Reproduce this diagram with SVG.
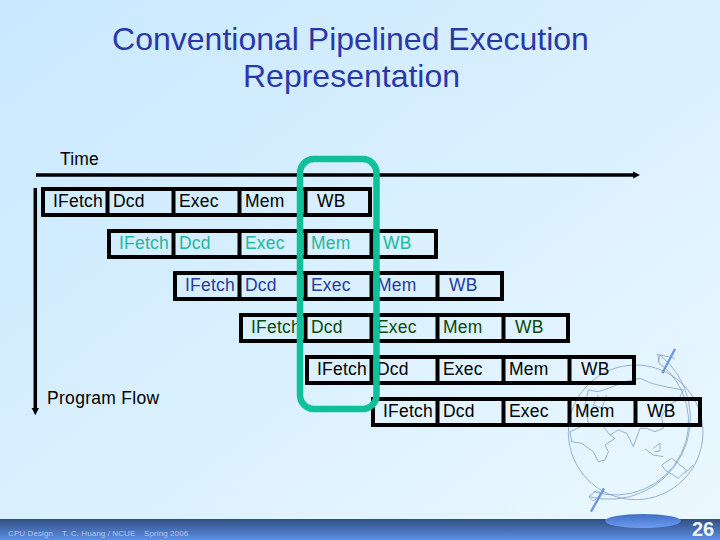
<svg xmlns="http://www.w3.org/2000/svg" width="720" height="540" viewBox="0 0 720 540">
<defs>
<linearGradient id="bg" x1="0" y1="0" x2="1" y2="1"><stop offset="0" stop-color="#c9e8ff"/><stop offset="0.5" stop-color="#d9f0ff"/><stop offset="1" stop-color="#ecf8ff"/></linearGradient>
<linearGradient id="bar" x1="0" y1="0" x2="0" y2="1"><stop offset="0" stop-color="#2f4f80"/><stop offset="1" stop-color="#5d8fe6"/></linearGradient>
<linearGradient id="disc" x1="0" y1="0" x2="0" y2="1"><stop offset="0" stop-color="#3f6fc4"/><stop offset="1" stop-color="#6d9cf0"/></linearGradient>
<marker id="ah" viewBox="0 0 10 10" refX="4.500" refY="5" markerWidth="2.200" markerHeight="2.200" orient="auto"><path d="M0 0L10 5L0 10Z" fill="#000"/></marker>
</defs>
<style>
text{font-family:"Liberation Sans",Arial,sans-serif}
.c{fill:none;stroke:#000;stroke-width:4}
.t text,text.t{font-size:17.500px;letter-spacing:.2px}
.g{fill:none;stroke:#7f9fc8;stroke-width:2.400}
.k{fill:#000}.e{fill:#1fb89c}.b{fill:#2a3a9c}.d{fill:#0a4a0a}
.f{font-size:8px;fill:#b0c6ea;letter-spacing:.1px}
</style>
<rect width="720" height="540" fill="url(#bg)"/>
<g id="globe" transform="translate(565 345) scale(.3333)">
<circle class="g" cx="212" cy="262" r="202"/>
<path class="g" d="M285 30A243 243 0 0 1 72 455M280 52A220 220 0 0 1 85 440M285 30L280 52M330 40L278 28L282 52M72 455L95 436L108 448L85 468Z"/>
<path class="g" d="M60 180L70 135L100 140L130 130L180 110L225 100L260 115L300 125L355 135L340 165L310 180L290 215L295 250L270 260L245 250L225 250L205 305L185 265L160 255L135 270L115 245L70 235L15 260L20 290L50 295L85 320L100 350L120 345L130 320L120 300L150 280L135 270M60 180L70 235M100 150L85 180L110 190L125 150M290 360L320 340L345 360L365 375L340 400L300 375ZM265 310L285 295L285 318L268 320M240 312L265 330L295 335M360 385L385 360"/>
<path d="M330 12L292 85M117 430L78 500" stroke="#6f94e0" stroke-width="7" fill="none"/>
</g>
<rect y="519" width="720" height="21" fill="url(#bar)"/>
<ellipse cx="643" cy="521" rx="38" ry="7" fill="url(#disc)"/>
<text x="350.500" y="50" text-anchor="middle" font-size="32" fill="#2a38a8">Conventional Pipelined Execution</text>
<text x="351.500" y="87" text-anchor="middle" font-size="32" fill="#2a38a8">Representation</text>
<text x="60" y="165" class="t k">Time</text>
<text x="47" y="404" class="t k" style="letter-spacing:.3px">Program Flow</text>
<g id="connectors">
<path d="M36 175H636" stroke="#000" stroke-width="3.300" marker-end="url(#ah)"/>
<path d="M35.300 188V411" stroke="#000" stroke-width="3.500" marker-end="url(#ah)"/>
</g>
<g id="row1"><path class="c" d="M43 189H370V215H43ZM107.500 189V215M173.500 189V215M239.500 189V215M305.500 189V215"/>
<g class="t k"><text x="53" y="206.500">IFetch</text><text x="113" y="206.500">Dcd</text><text x="179" y="206.500">Exec</text><text x="245" y="206.500">Mem</text><text x="317" y="206.500">WB</text></g></g>
<g id="row2"><path class="c" d="M109 231H436V257H109ZM173.500 231V257M239.500 231V257M305.500 231V257M371.500 231V257"/>
<g class="t e"><text x="119" y="248.500">IFetch</text><text x="179" y="248.500">Dcd</text><text x="245" y="248.500">Exec</text><text x="311" y="248.500">Mem</text><text x="383" y="248.500">WB</text></g></g>
<g id="row3"><path class="c" d="M175 273H502V299H175ZM239.500 273V299M305.500 273V299M371.500 273V299M437.500 273V299"/>
<g class="t b"><text x="185" y="290.500">IFetch</text><text x="245" y="290.500">Dcd</text><text x="311" y="290.500">Exec</text><text x="377" y="290.500">Mem</text><text x="449" y="290.500">WB</text></g></g>
<g id="row4"><path class="c" d="M241 315H568V341H241ZM305.500 315V341M371.500 315V341M437.500 315V341M503.500 315V341"/>
<g class="t d"><text x="251" y="332.500">IFetch</text><text x="311" y="332.500">Dcd</text><text x="377" y="332.500">Exec</text><text x="443" y="332.500">Mem</text><text x="515" y="332.500">WB</text></g></g>
<g id="row5"><path class="c" d="M307 357H634V383H307ZM371.500 357V383M437.500 357V383M503.500 357V383M569.500 357V383"/>
<g class="t k"><text x="317" y="374.500">IFetch</text><text x="377" y="374.500">Dcd</text><text x="443" y="374.500">Exec</text><text x="509" y="374.500">Mem</text><text x="581" y="374.500">WB</text></g></g>
<g id="row6"><path class="c" d="M373 399H700V425H373ZM437.500 399V425M503.500 399V425M569.500 399V425M635.500 399V425"/>
<g class="t k"><text x="383" y="416.500">IFetch</text><text x="443" y="416.500">Dcd</text><text x="509" y="416.500">Exec</text><text x="575" y="416.500">Mem</text><text x="647" y="416.500">WB</text></g></g>
<rect id="highlight" x="300" y="159" width="76.500" height="250" rx="14" fill="none" stroke="#10c098" stroke-width="6.500"/>
<text x="8" y="536" class="f">CPU Design</text>
<text x="62" y="536" class="f">T. C. Huang / NCUE</text>
<text x="144" y="536" class="f">Spring 2006</text>
<text x="692" y="536" font-size="20" font-weight="bold" fill="#f0f4fa">26</text>
</svg>
